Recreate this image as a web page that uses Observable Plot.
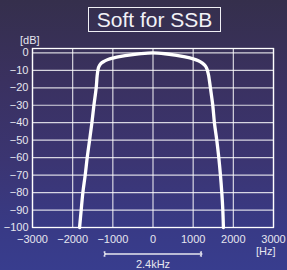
<!DOCTYPE html>
<html>
<head>
<meta charset="utf-8">
<script src="https://cdn.jsdelivr.net/npm/d3@7"></script>
<script src="https://cdn.jsdelivr.net/npm/@observablehq/plot@0.6"></script>
<style>
  html, body { margin: 0; padding: 0; }
  body { width: 287px; height: 270px; overflow: hidden;
    background: linear-gradient(180deg, #352f4c 0%, #3a3160 30%, #3b3572 60%, #383a86 85%, #383d8e 100%); }
  #wrap { position: relative; width: 287px; height: 270px; }
  #title { position: absolute; left: 88px; top: 7px; width: 131px; height: 23px;
    border: 1.5px solid #f0f0f5; color: #f2f2f7; font-family: "Liberation Sans", Arial, sans-serif;
    font-size: 21px; line-height: 23px; text-align: center; }
  svg { display: block; }
</style>
</head>
<body>
<div id="wrap"><div id="title"></div></div>
<script>
const title = "Soft for SSB";
const xUnit = "[Hz]";
const yUnit = "[dB]";
const xTicks = [-3000, -2000, -1000, 0, 1000, 2000, 3000];
const yTicks = [0, -10, -20, -30, -40, -50, -60, -70, -80, -90, -100];
const bandEdges = [-1200, 1200];
const bandLabel = "2.4kHz";

// Filter response: frequency [Hz] and level [dB]
const freq  = [-1828, -1788, -1746, -1688, -1638, -1579, -1521, -1471, -1414, -1390, -1372, -1350, -1300, -1220, -1120, -1000, -800, -550, -300, 0,
               300, 550, 800, 1000, 1130, 1230, 1300, 1340, 1365, 1385, 1429, 1488, 1529, 1588, 1638, 1679, 1713, 1738, 1753];
const level = [-100, -90, -80, -70, -60, -50, -40, -30, -20, -13, -10, -8, -6.2, -4.9, -3.8, -3.0, -2.0, -1.1, -0.4, 0,
               -0.5, -1.3, -2.3, -3.4, -4.5, -5.9, -7.4, -9, -11, -13, -20, -30, -40, -50, -60, -70, -80, -90, -100];

const data = freq.map((f, i) => ({f, db: level[i]}));
const yMin = d3.min(yTicks);
const fmt = d => d3.format("d")(d).replace("-", "\u2212");

document.getElementById("title").textContent = title;

const chart = Plot.plot({
  width: 287, height: 270,
  marginLeft: 32, marginRight: 14, marginTop: 48, marginBottom: 43,
  style: {background: "transparent", color: "#e6e6ef", fontFamily: "'Liberation Sans', Arial, sans-serif", fontSize: "11px"},
  x: {domain: [-3000, 3000], ticks: xTicks, tickSize: 0, tickPadding: 8, tickFormat: fmt, label: null},
  y: {domain: [-100, 2.5], ticks: yTicks, tickSize: 0, tickPadding: 4, tickFormat: fmt, label: null},
  marks: [
    Plot.ruleX(xTicks, {stroke: "#ffffff", strokeOpacity: 0.8, strokeWidth: 1.2}),
    Plot.ruleY(yTicks, {stroke: "#ffffff", strokeOpacity: 0.8, strokeWidth: 1.2}),
    Plot.frame({stroke: "#ffffff", strokeWidth: 1.3}),
    Plot.line(data, {x: "f", y: "db", stroke: "#ffffff", strokeWidth: 3.3, curve: "catmull-rom"}),
    Plot.link([bandEdges], {x1: d => d[0], x2: d => d[1], y1: () => yMin, y2: () => yMin, dy: 26.5,
      stroke: "#e6e6ef", strokeWidth: 1, markerStart: "arrow", markerEnd: "arrow"}),
    Plot.link([bandEdges], {x1: d => d[0], x2: d => d[1], y1: () => yMin, y2: () => yMin, dy: 26.5,
      stroke: "#e6e6ef", strokeWidth: 1, markerStart: "tick-y", markerEnd: "tick-y"}),
    Plot.text([bandLabel], {x: () => 0, frameAnchor: "bottom", lineAnchor: "middle", dy: 36.5, fill: "#e6e6ef"}),
    Plot.text([yUnit], {frameAnchor: "top-left", lineAnchor: "middle", dx: -12.5, dy: -8.5, fill: "#e6e6ef"}),
    Plot.text([xUnit], {frameAnchor: "bottom-right", lineAnchor: "middle", dx: 2, dy: 23.5, fill: "#e6e6ef"})
  ]
});
document.getElementById("wrap").appendChild(chart);
</script>
</body>
</html>
